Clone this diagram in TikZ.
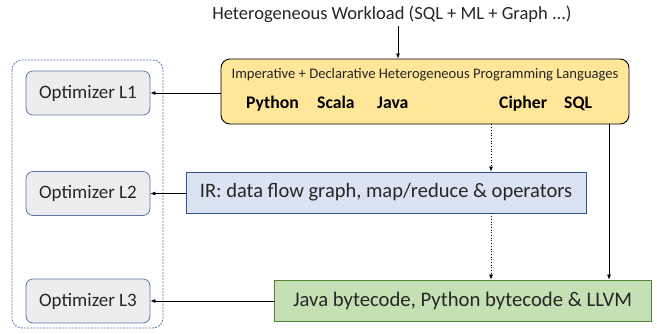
\documentclass[tikz,border=0pt]{standalone}
\usepackage{fontspec}
\setmainfont{Carlito}
\usetikzlibrary{arrows.meta}
\definecolor{yfill}{HTML}{FFE699}
\definecolor{gfill}{HTML}{EDEDED}
\definecolor{gborder}{HTML}{5B78A8}
\definecolor{bfill}{HTML}{DAE3F3}
\definecolor{bborder}{HTML}{2F5597}
\definecolor{grfill}{HTML}{C5E0B4}
\definecolor{grborder}{HTML}{548235}
\definecolor{txt}{HTML}{262626}
\tikzset{
  x=1pt,y=-1pt,
  optbox/.style={draw=gborder,fill=gfill,rounded corners=7pt,line width=0.8pt,minimum width=124pt,minimum height=44pt,font=\fontsize{19}{22}\selectfont,text=txt},
  lang/.style={font=\bfseries\fontsize{17.7}{20}\selectfont,anchor=base west,inner sep=0pt},
  arr/.style={-{Latex[length=5pt,width=4pt]},line width=0.7pt},
  darr/.style={-{Latex[length=5pt,width=4pt]},line width=0.7pt,dotted},
}
\begin{document}
\begin{tikzpicture}
\useasboundingbox (0,0) rectangle (657,333);
\draw[gborder,dash pattern=on 2pt off 1.2pt,rounded corners=10pt,line width=0.8pt] (12,60) rectangle (163,328);
\node[font=\fontsize{18.5}{22}\selectfont,text=txt] (title) at (392,14) {Heterogeneous Workload (SQL + ML + Graph ...)};
\node[draw=black,fill=yfill,rounded corners=9pt,line width=0.9pt,minimum width=408pt,minimum height=65pt] (lang) at (425,91.5) {};
\node[font=\fontsize{14.6}{17}\selectfont,text=txt] (lt) at (425,75) {Imperative + Declarative Heterogeneous Programming Languages};
\node[lang] (py) at (246,108) {Python};
\node[lang] (sc) at (317,108) {Scala};
\node[lang] (ja) at (377,108) {Java};
\node[lang] (ci) at (499,108) {Cipher};
\node[lang] (sq) at (564,108) {SQL};
\node[optbox] (o1) at (88,93) {Optimizer L1};
\node[optbox] (o2) at (88,193.5) {Optimizer L2};
\node[optbox] (o3) at (88,301) {Optimizer L3};
\node[draw=bborder,fill=bfill,line width=0.8pt,minimum width=400pt,minimum height=41pt,font=\fontsize{20.5}{24}\selectfont,text=txt] (ir) at (386,192.5) {IR: data flow graph, map/reduce \& operators};
\node[draw=grborder,fill=grfill,line width=0.8pt,minimum width=377pt,minimum height=41pt,font=\fontsize{20.7}{24}\selectfont,text=txt] (jb) at (462.5,300.5) {Java bytecode, Python bytecode \& LLVM};
\coordinate (t0) at (398,26);
\draw[arr] (t0) -- (t0 |- lang.north);
\draw[arr] (lang.west |- o1) -- (o1.east);
\draw[arr] (ir.west |- o2) -- (o2.east);
\draw[arr] (jb.west |- o3) -- (o3.east);
\coordinate (d1) at (491,124);
\draw[darr] (lang.south -| d1) -- (ir.north -| d1);
\draw[darr] (ir.south -| d1) -- (jb.north -| d1);
\coordinate (s1) at (609,124);
\draw[arr] (lang.south -| s1) -- (jb.north -| s1);
\end{tikzpicture}
\end{document}
